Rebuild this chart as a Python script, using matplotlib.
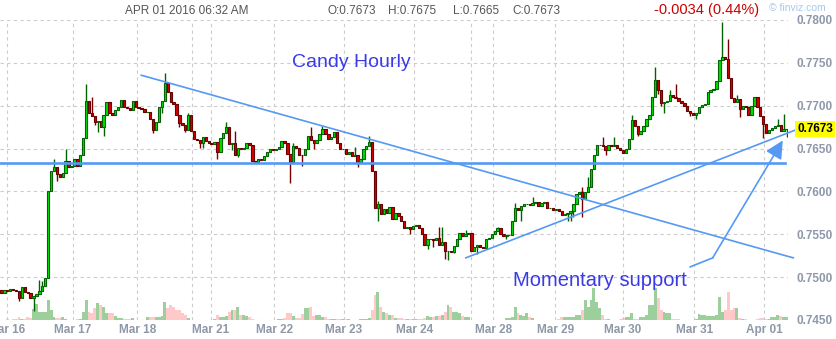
# Candy Hourly - AUD/USD style hourly candles
#
import numpy as np
import matplotlib
matplotlib.use('Agg')
import matplotlib.pyplot as plt

plt.rcParams['font.family'] = ['Liberation Sans', 'DejaVu Sans']

# Hourly closes, segment by segment (left to right)
first_open = 0.7485
seg_a = [0.7481, 0.7485, 0.7484, 0.7486, 0.7485, 0.7484, 0.7476, 0.7488, 0.7483, 0.7482,
         0.7476, 0.7478, 0.7480, 0.7484, 0.7490, 0.7499, 0.7600]
seg_b = [0.7624, 0.7628, 0.7620, 0.7617, 0.7622, 0.7636, 0.7629, 0.7630, 0.7638, 0.7630,
         0.7642, 0.7662, 0.7706]
seg_c = [0.7691, 0.7688, 0.7681, 0.7682, 0.7675, 0.7689, 0.7704, 0.7692, 0.7689, 0.7695,
         0.7698, 0.7707, 0.7698, 0.7697]
seg_d = [0.7695, 0.7706, 0.7698, 0.7697, 0.7696, 0.7693, 0.7693, 0.7685, 0.7672, 0.7681,
         0.7699, 0.7706, 0.7726, 0.7716, 0.7704, 0.7702, 0.7689, 0.7680, 0.7677, 0.7672,
         0.7689, 0.7671]
seg_e = [0.7661, 0.7660, 0.7657, 0.7664, 0.7659, 0.7656, 0.7655, 0.7658, 0.7646, 0.7662,
         0.7668, 0.7675, 0.7655, 0.7656, 0.7643, 0.7651, 0.7649, 0.7651, 0.7656, 0.7654,
         0.7636]
seg_f = [0.7634, 0.7638, 0.7637, 0.7641, 0.7646, 0.7649, 0.7648, 0.7650, 0.7652, 0.7659,
         0.7656, 0.7644, 0.7634, 0.7653, 0.7651, 0.7643, 0.7642, 0.7649, 0.7665, 0.7660,
         0.7656, 0.7660, 0.7667, 0.7673, 0.7667, 0.7661, 0.7663, 0.7669, 0.7657, 0.7650,
         0.7650, 0.7644, 0.7646, 0.7641, 0.7642, 0.7634, 0.7638, 0.7649, 0.7653, 0.7658,
         0.7624, 0.7581, 0.7585, 0.7574, 0.7580]
seg_g = [0.7575, 0.7582, 0.7568, 0.7575, 0.7571, 0.7565, 0.7557, 0.7558, 0.7556, 0.7560,
         0.7561, 0.7557, 0.7550, 0.7538, 0.7545, 0.7545, 0.7543, 0.7546, 0.7538, 0.7541,
         0.7530, 0.7531, 0.7529, 0.7536, 0.7545, 0.7552, 0.7548, 0.7550, 0.7552]
seg_h = [0.7531, 0.7535, 0.7537, 0.7535, 0.7534, 0.7545, 0.7546, 0.7550, 0.7554, 0.7557,
         0.7550, 0.7548, 0.7549, 0.7549, 0.7566, 0.7581, 0.7578, 0.7583]
seg_i = [0.7585, 0.7585, 0.7584, 0.7587, 0.7588, 0.7583, 0.7586, 0.7588, 0.7581, 0.7581,
         0.7578, 0.7580, 0.7577, 0.7572, 0.7574, 0.7575, 0.7577, 0.7585, 0.7597, 0.7599,
         0.7591, 0.7599, 0.7605, 0.7626, 0.7642, 0.7654, 0.7654, 0.7653, 0.7648, 0.7654,
         0.7653, 0.7654, 0.7651, 0.7648, 0.7645, 0.7650, 0.7661, 0.7683, 0.7676, 0.7667,
         0.7670, 0.7676, 0.7684]
seg_j = [0.7689, 0.7710, 0.7730, 0.7718, 0.7703, 0.7704, 0.7706, 0.7712, 0.7710, 0.7709,
         0.7706, 0.7703, 0.7700, 0.7694, 0.7692, 0.7689, 0.7692, 0.7698, 0.7701, 0.7702,
         0.7716, 0.7718, 0.7719, 0.7729, 0.7753, 0.7757, 0.7754, 0.7732, 0.7709, 0.7704,
         0.7708, 0.7696, 0.7700, 0.7698, 0.7689, 0.7700, 0.7710, 0.7698, 0.7688, 0.7679,
         0.7668, 0.7672, 0.7674, 0.7676, 0.7677, 0.7671, 0.7673, 0.7673]

# Volume (relative) per candle, same segments
vol_a = [0.5, 0.5, 1, 0.5, 1, 1, 3, 1, 1, 3, 2, 11, 16, 8, 8, 8, 20]
vol_b = [10, 3, 2, 2, 3, 1, 0.5, 0.5, 0.5, 1, 1, 8, 20]
vol_c = [8, 7, 12, 17, 15, 13, 7, 7, 7, 4, 2, 2, 1, 1]
vol_d = [1, 2, 0.5, 0.5, 0.5, 0.5, 3, 3, 3, 3, 3, 4, 18, 12, 15, 13, 10, 10, 7, 5, 2, 0.5]
vol_e = [0.5, 0.5, 0.5, 0.5, 0.5, 0.5, 0.5, 1, 5, 3, 3, 4, 8, 10, 10, 13, 5, 5, 4, 3, 1]
vol_f = [0.5, 0.5, 0.5, 0.5, 0.5, 0.5, 0.5, 0.5, 1, 1, 2, 7, 7, 4, 2, 2, 6, 12, 12, 13,
         4, 5, 5, 3, 3, 1, 1, 1, 1, 1, 1, 1, 1, 0.5, 0.5, 0.5, 1, 1, 1, 2,
         10, 25, 28, 13, 8]
vol_g = [7, 5, 5, 2, 2, 2, 1, 1, 1, 1, 1, 1, 1, 2, 4, 3, 3, 4, 4, 5, 8, 15, 13, 8, 8,
         7, 4, 3, 3]
vol_h = [0.5, 0.5, 0.5, 0.5, 0.5, 0.5, 0.5, 0.5, 0.5, 0.5, 0.5, 0.5, 2, 2, 3, 13, 7, 5]
vol_i = [4, 7, 3, 2, 0.5, 0.5, 0.5, 0.5, 0.5, 0.5, 0.5, 0.5, 1, 3, 3, 3, 3, 3, 5, 5,
         10, 20, 13, 20, 32, 18, 12, 5, 1, 1, 0.5, 0.5, 0.5, 1, 2, 3, 3, 7, 1, 1,
         3, 3, 5]
vol_j = [15, 15, 32, 22, 10, 8, 7, 7, 1, 1, 1, 0.5, 0.5, 0.5, 0.5, 0.5, 1, 6, 5, 5,
         4, 4, 4, 5, 23, 8, 10, 28, 10, 12, 12, 2, 1, 1, 0.5, 0.5, 0.5, 1, 2, 2,
         1, 1, 3, 3, 5, 4, 3, 3]

# Visible wicks (candle number -> price)
wick_high = {13: 0.7497, 14: 0.7495, 18: 0.7638, 22: 0.7650, 29: 0.7725, 31: 0.7710,
             56: 0.7738, 57: 0.7728, 64: 0.7692, 77: 0.7681, 80: 0.7671, 100: 0.7657,
             106: 0.7675, 110: 0.7676, 121: 0.7652, 126: 0.7665, 129: 0.7589,
             150: 0.7559, 151: 0.7558, 159: 0.7555, 170: 0.7559, 176: 0.7586,
             182: 0.7594, 199: 0.7605, 201: 0.7617, 206: 0.7663, 210: 0.7664,
             216: 0.7689, 224: 0.7745, 229: 0.7718, 231: 0.7725, 247: 0.7798,
             249: 0.7778, 252: 0.7712, 266: 0.7685, 268: 0.7690}
wick_low = {6: 0.7472, 11: 0.7460, 19: 0.7612, 32: 0.7678, 33: 0.7669, 35: 0.7665,
            52: 0.7668, 55: 0.7692, 61: 0.7675, 63: 0.7669, 68: 0.7651, 69: 0.7651,
            74: 0.7638, 79: 0.7648, 81: 0.7640, 99: 0.7610, 103: 0.7630, 107: 0.7649,
            122: 0.7628, 129: 0.7565, 140: 0.7550, 146: 0.7533, 148: 0.7535,
            152: 0.7521, 153: 0.7520, 155: 0.7528, 163: 0.7527, 173: 0.7545,
            178: 0.7566, 194: 0.7566, 195: 0.7566, 196: 0.7570, 199: 0.7570,
            207: 0.7642, 218: 0.7665, 225: 0.7714, 226: 0.7700, 227: 0.7692,
            236: 0.7688, 238: 0.7685, 253: 0.7687, 256: 0.7689, 261: 0.7662, 269: 0.7663}

# Date axis (candle positions of day boundaries)
day_ticks = [1.8, 24.4, 46.5, 71.8, 93.5, 117.2, 141.5, 168.5, 189.7, 213.0, 237.4, 261.4]
day_labels = ['Mar 16', 'Mar 17', 'Mar 18', 'Mar 21', 'Mar 22', 'Mar 23', 'Mar 24',
              'Mar 28', 'Mar 29', 'Mar 30', 'Mar 31', 'Apr 01']
week_breaks = [65.2, 160.8, 269.5]
price_ticks = [0.7450, 0.7500, 0.7550, 0.7600, 0.7650, 0.7700, 0.7750, 0.7800]
last_price = 0.7673

closes = np.array(seg_a + seg_b + seg_c + seg_d + seg_e + seg_f + seg_g + seg_h + seg_i + seg_j)
volume = np.array(vol_a + vol_b + vol_c + vol_d + vol_e + vol_f + vol_g + vol_h + vol_i + vol_j)
opens = np.concatenate([[first_open], closes[:-1]])
n = len(closes)
idx = np.arange(n)
highs = np.maximum(opens, closes)
lows = np.minimum(opens, closes)
for k, v in wick_high.items():
    highs[k] = max(highs[k], v)
for k, v in wick_low.items():
    lows[k] = min(lows[k], v)
up = closes >= opens

fig = plt.figure(figsize=(8.37, 3.39), dpi=100)
rect = [0, 19/339., 788/837., 300/339.]

# volume underneath
axv = fig.add_axes(rect)
axv.bar(idx, volume, width=1.0, color=np.where(up, '#9dcf9d', '#ffc9c9'), linewidth=0)
axv.set_xlim(-0.5, 269.5)
axv.set_ylim(0, 300)
axv.axis('off')

ax = fig.add_axes(rect)
ax.patch.set_alpha(0)
ax.set_xlim(-0.5, 269.5)
ax.set_ylim(0.7450, 0.7800)
for s in ax.spines.values():
    s.set_visible(False)

ax.vlines(idx, lows, highs, colors=np.where(up, '#006400', '#7a0000'), lw=1.0, zorder=3)
ax.bar(idx, np.abs(closes - opens), bottom=np.minimum(opens, closes), width=0.8,
       color=np.where(up, '#00e000', '#d40000'), edgecolor=np.where(up, '#006400', '#6a0000'),
       linewidth=0.8, zorder=4)

ax.set_xticks(day_ticks)
ax.set_xticklabels(day_labels)
ax.set_xticks(week_breaks, minor=True)
ax.set_yticks(price_ticks)
ax.set_yticklabels(['%.4f' % p for p in price_ticks])
ax.yaxis.tick_right()
ax.tick_params(axis='both', which='both', length=0, labelsize=8.5, labelcolor='#8e98a8')
ax.tick_params(axis='y', pad=6)
ax.tick_params(axis='x', pad=3)
for lab in ax.get_xticklabels() + ax.get_yticklabels():
    lab.set_fontweight('bold')
ax.grid(True, which='both', linestyle=(0, (3, 3)), color='#cccccc', linewidth=0.8)
ax.set_axisbelow(True)

# last price tag
ax.annotate('%.4f' % last_price, xy=(1, last_price), xycoords=('axes fraction', 'data'),
            xytext=(6.5, 0), textcoords='offset points', ha='left', va='center',
            fontsize=8.5, fontweight='bold', color='black', zorder=10,
            bbox=dict(boxstyle='square,pad=0.15', fc='#ffff00', ec='none'))

# trend lines and support
blue = '#5599f5'
ax.plot([47.9, 271.3], [0.77356, 0.75225], color=blue, lw=1.2, clip_on=False, zorder=5)
ax.plot([-0.5, 268.4], [0.76326, 0.76326], color=blue, lw=1.9, clip_on=False, zorder=5)
ax.plot([159.1, 277.0], [0.75225, 0.76782], color=blue, lw=1.2, clip_on=False, zorder=5)
ax.plot([236.0, 243.7], [0.75120, 0.75225], color=blue, lw=1.2, zorder=5)
ax.annotate('', xy=(267.7, 0.76595), xytext=(243.7, 0.75225),
            arrowprops=dict(arrowstyle='-|>,head_length=0.6,head_width=0.3',
                            mutation_scale=18, color=blue, lw=1.2, shrinkA=0, shrinkB=0),
            zorder=6)

ax.text(120, 0.77508, 'Candy Hourly', color='#3a3ae6', fontsize=14, ha='center', va='center')
ax.text(204.9, 0.74956, 'Momentary support', color='#3a3ae6', fontsize=14.5,
        ha='center', va='center')

# header
fig.text(187/837., 1 - 11/339., 'APR 01 2016 06:32 AM', color='#555555', fontsize=8.5,
         ha='center', va='center')
fig.text(328/837., 1 - 11/339., 'O:0.7673', color='#555555', fontsize=8.5, va='center')
fig.text(388/837., 1 - 11/339., 'H:0.7675', color='#555555', fontsize=8.5, va='center')
fig.text(453/837., 1 - 11/339., 'L:0.7665', color='#555555', fontsize=8.5, va='center')
fig.text(512/837., 1 - 11/339., 'C:0.7673', color='#555555', fontsize=8.5, va='center')
fig.text(707/837., 1 - 10/339., '-0.0034 (0.44%)', color='#cc0000', fontsize=10.5,
         ha='center', va='center')
fig.text(826/837., 1 - 8/339., '\u00a9 finviz.com', color='#a8c8f0', fontsize=7.5,
         ha='right', va='center')

plt.savefig('out.png', dpi=100)
